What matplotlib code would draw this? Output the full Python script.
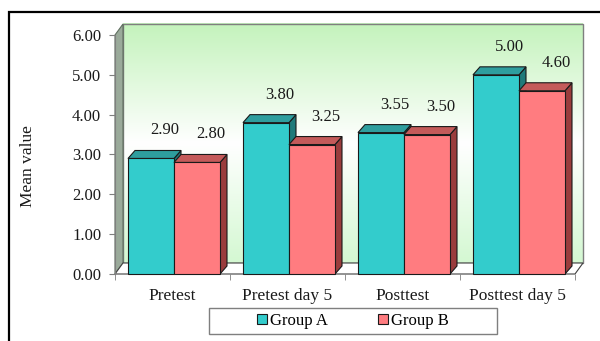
import numpy as np
import matplotlib.pyplot as plt
from matplotlib.patches import Polygon, Rectangle, Patch
from matplotlib.colors import LinearSegmentedColormap

categories = ['Pretest', 'Pretest day 5', 'Posttest', 'Posttest day 5']
group_a = [2.90, 3.80, 3.55, 5.00]
group_b = [2.80, 3.25, 3.50, 4.60]
series_names = ['Group A', 'Group B']
y_ticks = [0, 1, 2, 3, 4, 5, 6]

# front, top, side shades for each series
shades = {
    'Group A': ('#33CCCC', '#2E9E9E', '#1F7A7A'),
    'Group B': ('#FF7C80', '#C45A5A', '#9A3C3C'),
}

plt.rcParams['font.family'] = ['Liberation Serif', 'DejaVu Serif']

W, H = 600, 341
fig = plt.figure(figsize=(W / 100, H / 100), dpi=100)
# front plane of the 3-D box, in pixels: x 115..575, y 35..274
ax = fig.add_axes([115 / W, (H - 274) / H, 460 / W, (274 - 35) / H])
ax.set_xlim(0, 4)
ax.set_ylim(0, 6)

ux = 4 / 460   # data units per pixel, x
uy = 6 / 239   # data units per pixel, y
wdx, wdy = 8 * ux, 11 * uy   # wall depth
bdx, bdy = 7 * ux, 8 * uy    # bar depth

# back wall with a green-white-green gradient
wall_cmap = LinearSegmentedColormap.from_list(
    'wall', [(0.0, '#D4F8D2'), (0.5, '#FFFFFF'), (1.0, '#C4F3BC')])
grad = np.linspace(0, 1, 256).reshape(-1, 1)
img = ax.imshow(grad, cmap=wall_cmap, origin='lower', aspect='auto',
                extent=[wdx, 4 + wdx, wdy, 6 + wdy], zorder=0)
img.set_clip_on(False)
ax.add_patch(Rectangle((wdx, wdy), 4, 6, fill=False, edgecolor='#7F7F7F',
                       lw=1, zorder=1, clip_on=False))

# left wall and floor
ax.add_patch(Polygon([(0, 0), (0, 6), (wdx, 6 + wdy), (wdx, wdy)],
                     closed=True, facecolor='#9AAA9A', edgecolor='#5F6F5F',
                     lw=0.8, zorder=1, clip_on=False))
ax.add_patch(Polygon([(0, 0), (4, 0), (4 + wdx, wdy), (wdx, wdy)],
                     closed=True, facecolor='white', edgecolor='#404040',
                     lw=0.8, zorder=1, clip_on=False))

x = np.arange(len(categories))
bar_w = 0.4
offsets = [0.313, 0.713]
for k, (name, vals) in enumerate(zip(series_names, [group_a, group_b])):
    front, top, side = shades[name]
    centers = x + offsets[k]
    bars = ax.bar(centers, vals, width=bar_w, color=front,
                  edgecolor='#1A1A1A', lw=0.8)
    for i, (bar, v) in enumerate(zip(bars, vals)):
        base = 3 + i * 10 + k * 4
        x0, x1 = bar.get_x(), bar.get_x() + bar_w
        ax.add_patch(Polygon([(x1, 0), (x1 + bdx, bdy), (x1 + bdx, v + bdy), (x1, v)],
                             closed=True, facecolor=side, edgecolor='#1A1A1A',
                             lw=0.8, zorder=base, clip_on=False))
        ax.add_patch(Polygon([(x0, v), (x1, v), (x1 + bdx, v + bdy), (x0 + bdx, v + bdy)],
                             closed=True, facecolor=top, edgecolor='#1A1A1A',
                             lw=0.8, zorder=base + 1, clip_on=False))
        bar.set_zorder(base + 2)
        bar.set_clip_on(False)
        ax.annotate(f'{v:.2f}', xy=(centers[i], v), xytext=(14, 28),
                    textcoords='offset pixels', ha='center', va='center',
                    fontsize=12, color='#1A1A1A')

for s in ['top', 'right', 'bottom']:
    ax.spines[s].set_visible(False)
ax.spines['left'].set_color('#7F7F7F')
ax.spines['left'].set_zorder(2)

ax.set_yticks(y_ticks)
ax.set_yticklabels([f'{t:.2f}' for t in y_ticks], fontsize=12, color='#1A1A1A')
ax.tick_params(axis='y', direction='out', length=4, color='#7F7F7F', pad=6)

ax.set_xticks(x + 0.5)
ax.set_xticklabels(categories, fontsize=12.5, color='#1A1A1A')
ax.set_xticks(np.arange(len(categories) + 1), minor=True)
ax.tick_params(axis='x', which='major', length=0, pad=10)
ax.tick_params(axis='x', which='minor', direction='out', length=4, color='#7F7F7F')

fig.text(28 / W, 1 - 166 / H, 'Mean value', rotation=90, ha='center',
         va='center', fontsize=12.5, color='#1A1A1A')

# legend box and entries
fig.add_artist(Rectangle((209 / W, 1 - 334 / H), 288 / W, 26 / H,
                         transform=fig.transFigure, fill=False,
                         edgecolor='#7F7F7F', lw=1))
handles = [Patch(facecolor=shades[n][0], edgecolor='#1A1A1A', lw=0.8)
           for n in series_names]
fig.legend(handles, series_names, loc='center',
           bbox_to_anchor=(353 / W, 1 - 321 / H), ncol=2, frameon=False,
           fontsize=12, handlelength=0.6, handleheight=0.6,
           handletextpad=0.2, columnspacing=3.0, borderpad=0)

# outer chart border
fig.add_artist(Rectangle((9 / W, -0.1), 1.2, 1.1 - 12 / H,
                         transform=fig.transFigure, fill=False,
                         edgecolor='black', lw=1.6))

fig.savefig('out.png', dpi=100)
